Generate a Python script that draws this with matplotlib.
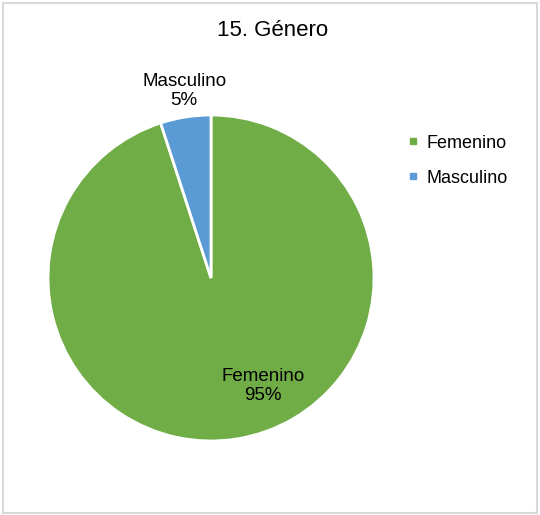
import matplotlib.pyplot as plt
from matplotlib.lines import Line2D
from matplotlib.patches import Rectangle

plt.rcParams['font.family'] = ['Liberation Sans', 'DejaVu Sans']

# data
categories = ["Femenino", "Masculino"]
values = [95, 5]
colors = ["#70AD47", "#5B9BD5"]

fig = plt.figure(figsize=(5.4, 5.15), dpi=100)

# light gray frame around the chart
fig.patches.append(Rectangle((0.006, 0.004), 0.988, 0.99, transform=fig.transFigure,
                             fill=False, edgecolor="#D9D9D9", linewidth=1.5))

fig.text(0.505, 0.94, "15. Género", ha="center", va="center", fontsize=16, color="#000000")

ax = fig.add_axes([0.0889, 0.1437, 0.6037, 0.633])
wedges, _ = ax.pie(values, colors=colors, startangle=90, counterclock=False,
                   wedgeprops=dict(edgecolor="white", linewidth=2), radius=1)
ax.set_xlim(-1, 1)
ax.set_ylim(-1, 1)
ax.set_aspect("equal")
ax.axis("off")

# data labels (category + percentage)
label_pos = [(0.32, -0.66), (-0.165, 1.15)]
for (x, y), cat, v in zip(label_pos, categories, values):
    ax.text(x, y, f"{cat}\n{v}%", ha="center", va="center", fontsize=13.5,
            linespacing=1.15, clip_on=False)

handles = [Line2D([0], [0], marker="s", linestyle="none", markersize=5,
                  markerfacecolor=c, markeredgecolor=c) for c in colors]
fig.legend(handles, categories, loc="upper left", bbox_to_anchor=(0.725, 0.77),
           frameon=False, fontsize=13, handlelength=0.6, handletextpad=0.45,
           labelspacing=1.0)

fig.savefig("out.png", dpi=100)
